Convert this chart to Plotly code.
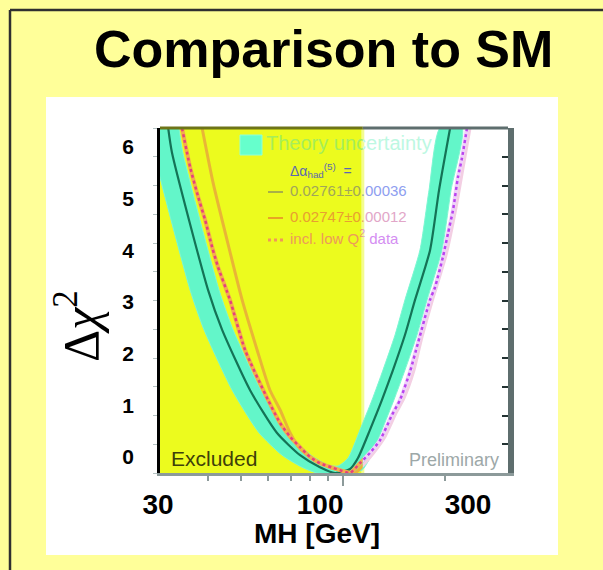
import numpy as np
import plotly.graph_objects as go

W, H = 603, 570

# ---------------- data ----------------
EXCLUSION_LIMIT = 114.4            # GeV, edge of the yellow "Excluded" region
X_RANGE = (28.85, 306.7)           # GeV, mass range of the embedded plot
Y_RANGE = (0.0, 6.0)

# central curve  (Δα_had = 0.02761 ± 0.00036)
CENTER_MH   = [30.5, 31.3, 40.0, 44.0, 53.2, 63.8, 74.7, 85.5, 94.7, 104.9, 110.7,
               120.1, 130.3, 140.4, 152.3, 163.1, 180.7, 192.0, 207.0]
CENTER_CHI2 = [6.00, 5.57, 3.18, 2.49, 1.44, 0.70, 0.31, 0.10, 0.00, 0.07, 0.26,
               0.75, 1.27, 1.79, 2.40, 3.01, 3.88, 4.92, 6.00]

# theory-uncertainty band: lower (outer) and upper (inner) envelopes
BAND_LOW_MH   = [27.0, 27.7, 35.4, 38.9, 47.1, 56.5, 66.1, 75.7, 83.8, 102.8,
                 113.8, 120.1, 130.3, 141.3, 152.3, 165.3, 177.0, 195.9, 208.3, 224.5]
BAND_LOW_CHI2 = [6.00, 5.57, 3.18, 2.49, 1.44, 0.70, 0.31, 0.10, 0.00, 0.00,
                 0.05, 0.26, 0.75, 1.27, 1.79, 2.40, 3.01, 3.88, 4.92, 6.00]
BAND_HIGH_MH   = [32.8, 33.7, 43.1, 47.4, 57.3, 68.8, 80.5, 90.3, 96.6,
                  103.5, 112.2, 121.8, 131.2, 142.4, 152.3, 168.7, 179.4, 193.3]
BAND_HIGH_CHI2 = [6.00, 5.57, 3.18, 2.49, 1.44, 0.70, 0.31, 0.14, 0.12,
                  0.26, 0.75, 1.27, 1.79, 2.40, 3.01, 3.88, 4.92, 6.00]

# "incl. low Q² data" curve
LOWQ_MH   = [33.5, 35.4, 37.4, 39.2, 41.1, 42.8, 46.4, 51.4, 60.1, 65.2, 69.8, 74.7,
             79.9, 85.5, 93.4, 101.4, 104.9, 112.2, 120.1, 128.6, 139.5, 147.3, 157.6,
             166.4, 180.6, 186.8, 197.2, 204.1, 211.1, 218.4, 224.4, 232.2]
LOWQ_CHI2 = [6.00, 5.32, 4.80, 4.40, 3.93, 3.58, 3.01, 2.14, 1.27, 0.87, 0.63, 0.45,
             0.28, 0.17, 0.09, 0.02, 0.00, 0.17, 0.35, 0.57, 1.01, 1.27, 1.76,
             2.26, 3.01, 3.23, 3.76, 4.17, 4.57, 5.15, 5.48, 6.00]

# Δα_had = 0.02747 ± 0.00012 curve
ALT_MH   = [38.4, 41.4, 45.5, 50.4, 55.8, 60.9, 65.2, 69.8, 74.7, 82.7, 91.5, 101.4,
            108.5, 116.1, 124.3, 133.0, 143.3, 151.3, 162.0, 169.9, 184.3, 201.3,
            215.4, 229.0, 237.0]
ALT_CHI2 = [6.00, 5.04, 4.05, 3.01, 2.14, 1.44, 1.10, 0.70, 0.42, 0.23, 0.10, 0.03,
            0.00, 0.17, 0.38, 0.63, 1.04, 1.30, 1.79, 2.30, 3.04, 3.79, 4.61, 5.50, 6.00]

MINOR_TICKS = [40, 50, 60, 70, 80, 90, 200]
Y_LABELS = [0, 1, 2, 3, 4, 5, 6]
X_LABELS = [30, 100, 300]
LEGEND_LABELS = ["Theory uncertainty",
                 "Δα<sub>had</sub><sup>(5)</sup>  =",
                 "0.02761±0.00036",
                 "0.02747±0.00012",
                 "incl. low Q<sup>2</sup> data"]
TITLE = "Comparison to SM"
X_TITLE = "MH [GeV]"
Y_TITLE = "Δ<i>χ</i><sup>2</sup>"

# ---------------- layout geometry (pixels) ----------------
PL, PR, PT, PB = 160, 508, 128, 473
SANS = "Liberation Sans, Arial, sans-serif"
SERIF = "Liberation Serif, Times New Roman, serif"

lx0, lx1 = np.log10(X_RANGE[0]), np.log10(X_RANGE[1])
lsplit = np.log10(EXCLUSION_LIMIT)


def fx(px):
    return px / W


def fy(py):
    return 1 - py / H


def px2m(px):
    return 10 ** (lx0 + (px - PL) / (PR - PL) * (lx1 - lx0))


def py2c(py):
    return Y_RANGE[0] + (PB - py) / (PB - PT) * (Y_RANGE[1] - Y_RANGE[0])


SPLIT = PL + (lsplit - lx0) / (lx1 - lx0) * (PR - PL)

YELLOW = "#ECFB1E"
BAND = "#63F6C9"

fig = go.Figure()
common = dict(hoverinfo="skip", showlegend=False)

# excluded region
fig.add_trace(go.Scatter(x=[X_RANGE[0], EXCLUSION_LIMIT, EXCLUSION_LIMIT, X_RANGE[0]],
                         y=[Y_RANGE[0], Y_RANGE[0], Y_RANGE[1], Y_RANGE[1]],
                         fill="toself", fillcolor=YELLOW, mode="lines",
                         line=dict(width=0), **common))
fig.add_trace(go.Scatter(x=[EXCLUSION_LIMIT, EXCLUSION_LIMIT], y=list(Y_RANGE),
                         mode="lines", line=dict(color="#F3FC90", width=3), **common))

# band
fig.add_trace(go.Scatter(x=BAND_LOW_MH + BAND_HIGH_MH[::-1],
                         y=BAND_LOW_CHI2 + BAND_HIGH_CHI2[::-1],
                         fill="toself", fillcolor=BAND, mode="lines",
                         line=dict(color="#7CF7D2", width=1, shape="spline", smoothing=0.6),
                         **common))
# central line
fig.add_trace(go.Scatter(x=CENTER_MH, y=CENTER_CHI2, mode="lines",
                         line=dict(color="#147356", width=2.2, shape="spline", smoothing=0.6),
                         **common))

# curves split in two clip regions (inside / outside the excluded band)
styles = {
    "x2": dict(alt="#E9B536", lowq_halo="#F2AE4C", lowq="#E6407C"),
    "x3": dict(alt="#F3CFE3", lowq_halo="#EFD2FA", lowq="#B944EE"),
}
for xa, st in styles.items():
    fig.add_trace(go.Scatter(x=ALT_MH, y=ALT_CHI2, xaxis=xa, yaxis="y", mode="lines",
                             line=dict(color=st["alt"], width=3, shape="spline", smoothing=0.6),
                             **common))
    fig.add_trace(go.Scatter(x=LOWQ_MH, y=LOWQ_CHI2, xaxis=xa, yaxis="y", mode="lines",
                             line=dict(color=st["lowq_halo"], width=4, shape="spline", smoothing=0.6),
                             **common))
    fig.add_trace(go.Scatter(x=LOWQ_MH, y=LOWQ_CHI2, xaxis=xa, yaxis="y", mode="lines",
                             line=dict(color=st["lowq"], width=2.5, dash="dot",
                                       shape="spline", smoothing=0.6),
                             **common))

# legend texts (positions in px -> data coordinates), colors per clip region
LEG_POS = [(266, 145), (290, 172), (290, 192), (290, 218), (290, 240)]
LEG_SIZE = [20, 14, 15, 15, 15]
LEG_COL = {
    "x2": ["#A6EE5A", "#5A68B0", "#A0A65A", "#E8A030", "#EC9A5A"],
    "x3": ["#BDF8E2", "#8E9EF0", "#8E9EF0", "#E2A6C8", "#D48EF2"],
}
for xa, cols in LEG_COL.items():
    fig.add_trace(go.Scatter(x=[px2m(p[0]) for p in LEG_POS],
                             y=[py2c(p[1]) for p in LEG_POS],
                             xaxis=xa, yaxis="y", mode="text", text=LEGEND_LABELS,
                             textposition="middle right", cliponaxis=True,
                             textfont=dict(family=SANS, size=LEG_SIZE, color=cols),
                             **common))

# dummy traces so that the auxiliary axes are drawn
fig.add_trace(go.Scatter(x=[None], y=[None], xaxis="x", yaxis="y3", **common))
fig.add_trace(go.Scatter(x=[None], y=[None], xaxis="x", yaxis="y2", **common))
fig.add_trace(go.Scatter(x=[None], y=[None], xaxis="x4", yaxis="y", **common))

shapes = [
    # white panel
    dict(type="rect", xref="paper", yref="paper", x0=fx(46), x1=fx(558), y0=fy(555), y1=fy(97),
         fillcolor="white", line=dict(width=0), layer="below"),
    # slide border
    dict(type="line", xref="paper", yref="paper", x0=fx(10), x1=1, y0=fy(10), y1=fy(10),
         line=dict(color="#303030", width=2.5)),
    dict(type="line", xref="paper", yref="paper", x0=fx(10), x1=fx(10), y0=fy(10), y1=0,
         line=dict(color="#303030", width=2.5)),
    # top frame
    dict(type="line", xref="paper", yref="paper", x0=fx(PL), x1=fx(SPLIT), y0=fy(PT), y1=fy(PT),
         line=dict(color="#6E7418", width=3), layer="above"),
    dict(type="line", xref="paper", yref="paper", x0=fx(SPLIT), x1=fx(PR), y0=fy(PT), y1=fy(PT),
         line=dict(color="#5E6E6E", width=3), layer="above"),
    # legend samples
    dict(type="rect", xref="paper", yref="paper", x0=fx(240), x1=fx(262), y0=fy(155), y1=fy(135),
         fillcolor="#66FFCC", line=dict(color="#8FFFD8", width=1), layer="above"),
    dict(type="line", xref="paper", yref="paper", x0=fx(268), x1=fx(283), y0=fy(192), y1=fy(192),
         line=dict(color="#A8B048", width=2), layer="above"),
    dict(type="line", xref="paper", yref="paper", x0=fx(268), x1=fx(283), y0=fy(218), y1=fy(218),
         line=dict(color="#E8A424", width=2), layer="above"),
    dict(type="line", xref="paper", yref="paper", x0=fx(268), x1=fx(283), y0=fy(240), y1=fy(240),
         line=dict(color="#F09858", width=3, dash="dot"), layer="above"),
]

annotations = [
    dict(text=TITLE, x=fx(323), y=fy(49), xref="paper", yref="paper", showarrow=False,
         xanchor="center", yanchor="middle",
         font=dict(family=SANS, size=52, color="black", weight="bold")),
    dict(text=Y_TITLE, x=fx(77), y=fy(326), xref="paper", yref="paper", showarrow=False,
         xanchor="center", yanchor="middle", textangle=-90,
         font=dict(family=SERIF, size=50, color="black")),
    dict(text=X_TITLE, x=fx(317), y=fy(533), xref="paper", yref="paper", showarrow=False,
         xanchor="center", yanchor="middle",
         font=dict(family=SANS, size=28, color="black", weight="bold")),
    dict(text="Excluded", x=fx(169), y=fy(459), xref="paper", yref="paper", showarrow=False,
         xanchor="left", yanchor="middle", font=dict(family=SANS, size=21, color="#3E400A")),
    dict(text="Preliminary", x=fx(407), y=fy(460), xref="paper", yref="paper", showarrow=False,
         xanchor="left", yanchor="middle", font=dict(family=SANS, size=18, color="#9DA8A8")),
]

noaxis = dict(showgrid=False, zeroline=False)
fig.update_layout(
    width=W, height=H, margin=dict(l=0, r=0, t=0, b=0, pad=0, autoexpand=False),
    paper_bgcolor="#FFFF99", plot_bgcolor="rgba(0,0,0,0)", showlegend=False,
    xaxis=dict(type="log", domain=[fx(PL), fx(PR)], range=[lx0, lx1], anchor="y",
               showline=True, linecolor="#8C9A9A", linewidth=3,
               ticks="outside", tickvals=[100], ticklen=10, tickwidth=1.5, tickcolor="#8C9A9A",
               showticklabels=False,
               minor=dict(tickvals=MINOR_TICKS, ticks="outside", ticklen=5, tickwidth=1.5,
                          tickcolor="#8C9A9A", showgrid=False), **noaxis),
    yaxis=dict(domain=[fy(PB), fy(PT)], range=list(Y_RANGE), anchor="x",
               showline=True, linecolor="black", linewidth=3,
               ticks="outside", tick0=0, dtick=0.5, ticklen=4, tickcolor="#B4C2C2",
               showticklabels=False, **noaxis),
    xaxis2=dict(type="log", domain=[fx(PL), fx(SPLIT)], range=[lx0, lsplit], anchor="y",
                visible=False, **noaxis),
    xaxis3=dict(type="log", domain=[fx(SPLIT), fx(PR)], range=[lsplit, lx1], anchor="y",
                visible=False, **noaxis),
    yaxis3=dict(overlaying="y", side="right", anchor="x", range=list(Y_RANGE),
                showline=True, linecolor="#5E6E6E", linewidth=6,
                ticks="inside", tick0=0, dtick=0.5, ticklen=6, tickwidth=2, tickcolor="#233333",
                showticklabels=False, **noaxis),
    yaxis2=dict(domain=[fy(457), fy(147)], range=[Y_LABELS[0], Y_LABELS[-1]], anchor="free",
                position=fx(134), side="left", tickvals=Y_LABELS, ticks="", showline=False,
                tickfont=dict(family=SANS, size=21, color="black", weight="bold"), **noaxis),
    xaxis4=dict(type="log", domain=[fx(158), fx(468)],
                range=[np.log10(X_LABELS[0]), np.log10(X_LABELS[-1])],
                anchor="free", position=fy(485), side="bottom", tickvals=X_LABELS,
                ticktext=[str(v) for v in X_LABELS], ticks="", showline=False,
                tickfont=dict(family=SANS, size=28, color="black", weight="bold"), **noaxis),
    shapes=shapes, annotations=annotations,
)

fig.write_html("out.html")
